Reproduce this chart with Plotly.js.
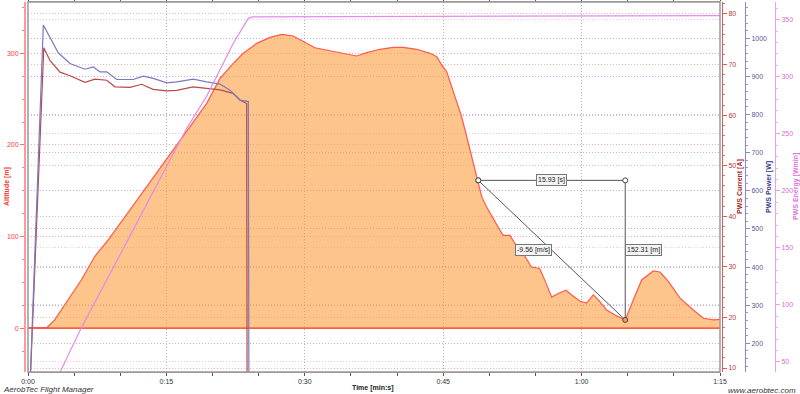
<!DOCTYPE html>
<html>
<head>
<meta charset="utf-8">
<script src="https://cdn.plot.ly/plotly-3.0.1.min.js"></script>
<style>html,body{margin:0;padding:0;background:#fff;}#chart{width:800px;height:394px;}</style>
</head>
<body>
<div id="chart"></div>
<script>
// ---- Data (time in seconds) ----
var timeAlt = [0, 1.98, 2.89, 4.34, 5.78, 7.23, 8.67, 11.05, 14.31, 17.56, 19.37, 20.81, 22.25, 23.33, 24.79, 26.23, 27.50, 28.75, 29.48, 30.20, 31.10, 32.37, 33.46, 34.54, 35.62, 36.71, 38.15, 39.59, 40.68, 42.13, 43.57, 44.30, 44.84, 45.38, 45.55, 46.28, 47.00, 47.55, 48.09, 48.80, 49.17, 49.71, 50.43, 51.16, 51.51, 52.24, 52.78, 53.68, 54.56, 55.46, 56.03, 56.76, 57.47, 58.31, 59.10, 59.83, 60.55, 61.27, 61.81, 62.72, 63.80, 64.73, 65.60, 66.51, 67.77, 68.50, 69.40, 70.67, 72.11, 73.20, 74.27, 75.0];
var altitude = [0, 0, 9.1, 30.9, 52.7, 78.3, 96.3, 129.1, 174.8, 219.6, 245.4, 272.7, 289.1, 300.0, 310.9, 317.4, 320.7, 318.9, 315.3, 310.9, 306.1, 303.6, 300.7, 298.9, 297.1, 300.7, 304.4, 306.5, 306.5, 304.4, 300.0, 296.3, 287.2, 279.9, 274.5, 252.6, 230.8, 209.0, 187.2, 161.4, 143.6, 132.3, 119.0, 106.8, 101.4, 101.4, 92.3, 81.4, 66.8, 65.3, 52.0, 34.0, 38.0, 41.5, 35.0, 29.5, 27.5, 36.4, 31.0, 20.0, 13.5, 9.1, 30.9, 52.7, 62.5, 61.4, 51.2, 32.9, 20.0, 10.9, 9.1, 9.8];

var timeCur = [0, 0.08, 1.71, 2.38, 3.47, 4.55, 6.18, 7.26, 8.53, 9.43, 11.05, 12.32, 13.55, 15.03, 16.12, 17.88, 19.37, 20.81, 22.22, 22.98, 23.70, 23.75, 75];
var current = [0, 0, 73.3, 70.8, 68.5, 67.8, 66.5, 67.1, 66.9, 65.6, 65.5, 66.1, 65.1, 64.8, 64.9, 65.6, 65.3, 65.0, 64.3, 63.0, 62.3, 0, 0];

var timePow = [0, 0.08, 1.66, 2.38, 3.28, 4.55, 6.18, 7.08, 7.80, 8.53, 9.61, 11.41, 12.50, 13.58, 15.03, 16.12, 17.92, 19.37, 20.81, 21.89, 22.98, 23.88, 23.95, 75];
var power = [0, 0, 1035, 1004, 962, 934, 919, 925, 912, 912, 892, 892, 901, 895, 883, 886, 893, 886, 880, 864, 838, 834, 0, 0];

var timeEn = [0, 0.9, 3.61, 5.78, 10.84, 17.20, 19.37, 22.25, 23.88, 24.30, 75];
var energy = [0, 0, 43.3, 79.9, 157.2, 254.8, 283.0, 329.3, 351.2, 352.5, 353.5];

var measureT = [48.80, 64.73];
var measureAlt = [161.40, 9.09];
var measureLabels = ["15.93 [s]", "152.31 [m]", "-9.56 [m/s]"];

var xTickVals = [0, 15, 30, 45, 60, 75];
var xTickText = ["0:00", "0:15", "0:30", "0:45", "1:00", "1:15"];

// ---- Traces ----
var font = "Liberation Sans, Arial, sans-serif";
var traces = [
  {x: timeAlt, y: altitude, type: 'scatter', mode: 'lines', fill: 'tozeroy',
   fillcolor: 'rgba(252,157,63,0.6)', line: {color: '#ff5a4a', width: 1.2}, xaxis: 'x', yaxis: 'y', hoverinfo: 'skip'},
  {x: [measureT[0], measureT[1], measureT[1], measureT[0]],
   y: [measureAlt[0], measureAlt[0], measureAlt[1], measureAlt[0]],
   type: 'scatter', mode: 'lines+markers', line: {color: '#555555', width: 1},
   marker: {size: 5, color: ['#ffffff', '#ffffff', '#f0a060', '#ffffff'], line: {color: '#444444', width: 1}},
   xaxis: 'x', yaxis: 'y', hoverinfo: 'skip'},
  {x: timeCur, y: current, type: 'scatter', mode: 'lines', line: {color: '#b84a48', width: 1.2}, xaxis: 'x', yaxis: 'y2', hoverinfo: 'skip'},
  {x: timePow, y: power, type: 'scatter', mode: 'lines', line: {color: '#7a78c0', width: 1.2}, xaxis: 'x', yaxis: 'y3', hoverinfo: 'skip'},
  {x: timeEn, y: energy, type: 'scatter', mode: 'lines', line: {color: '#e08ee8', width: 1.2}, xaxis: 'x', yaxis: 'y4', hoverinfo: 'skip'}
];

var W = 800, L = 25, R = 2;
var pw = W - L - R;
function px(x) { return (x - L) / pw; }
var DOT = '1px,2px';

function yAx(opts) {
  var base = {
    showgrid: true, griddash: DOT, gridwidth: 1, zeroline: false,
    showline: true, linewidth: 1, ticks: 'outside', ticklen: 4,
    tickfont: {size: 7, family: font}, fixedrange: true
  };
  for (var k in opts) base[k] = opts[k];
  return base;
}

var midT = (measureT[0] + measureT[1]) / 2;
var midAlt = (measureAlt[0] + measureAlt[1]) / 2;
var boxStyle = {showarrow: false, font: {size: 7, family: font, color: '#222'}, bgcolor: '#f4f4f4', bordercolor: '#777', borderwidth: 1, borderpad: 1, xref: 'x', yref: 'y'};
function box(o) { var b = {}; for (var k in boxStyle) b[k] = boxStyle[k]; for (var k2 in o) b[k2] = o[k2]; return b; }
function vtitle(x, text, color) {
  return {xref: 'paper', yref: 'paper', x: px(x), y: 0.5, xanchor: 'center', yanchor: 'middle',
    text: '<b>' + text + '</b>', textangle: -90, showarrow: false,
    font: {size: 7, family: font, color: color}};
}

var layout = {
  width: 800, height: 394,
  margin: {l: L, r: R, t: 2, b: 22},
  paper_bgcolor: '#ffffff', plot_bgcolor: '#ffffff',
  showlegend: false,
  font: {family: font},
  xaxis: {
    domain: [px(28), px(720)], range: [0, 75],
    tickvals: xTickVals, ticktext: xTickText,
    showgrid: true, gridcolor: '#b5b5b5', griddash: DOT, gridwidth: 1,
    zeroline: false, showline: true, linecolor: '#9a9a9a', linewidth: 1, mirror: 'allticks',
    ticks: 'outside', ticklen: 3, tickcolor: '#555',
    minor: {dtick: 5, tick0: 0, ticks: 'outside', ticklen: 3, tickcolor: '#555', showgrid: false},
    tickfont: {size: 7, family: font, color: '#333'}, fixedrange: true
  },
  yaxis: yAx({
    range: [-47.7, 356], dtick: 100, tick0: 0, anchor: 'free', position: 0, side: 'left',
    gridcolor: 'rgba(255,110,110,0.6)', linecolor: '#ff9a9a', linewidth: 2,
    tickcolor: '#ff6a6a', tickfont: {size: 7, family: font, color: '#ff4040'},
    zeroline: true, zerolinecolor: '#ff5050', zerolinewidth: 2,
    minor: {dtick: 25, ticks: 'outside', ticklen: 2, tickcolor: '#ff8080', showgrid: false}
  }),
  yaxis2: yAx({
    overlaying: 'y', side: 'right', anchor: 'free', position: px(722),
    range: [9.21, 82.37], dtick: 10, tick0: 0,
    gridcolor: 'rgba(240,120,120,0.55)', linecolor: '#e05a5a', tickcolor: '#e05a5a',
    tickfont: {size: 7, family: font, color: '#b04040'},
    minor: {dtick: 2, ticks: 'outside', ticklen: 2, tickcolor: '#e07070', showgrid: false}
  }),
  yaxis3: yAx({
    overlaying: 'y', side: 'right', anchor: 'free', position: px(745),
    range: [124.7, 1095.3], dtick: 100, tick0: 0,
    gridcolor: 'rgba(130,130,200,0.6)', linecolor: '#8a88cc', tickcolor: '#8a88cc',
    tickfont: {size: 7, family: font, color: '#5a5898'},
    minor: {dtick: 20, ticks: 'outside', ticklen: 2, tickcolor: '#9a98d0', showgrid: false}
  }),
  yaxis4: yAx({
    overlaying: 'y', side: 'right', anchor: 'free', position: px(775),
    range: [41.2, 365.5], dtick: 50, tick0: 0,
    gridcolor: 'rgba(230,150,230,0.6)', linecolor: '#e8a0e8', tickcolor: '#e8a0e8',
    tickfont: {size: 7, family: font, color: '#d070d0'},
    minor: {dtick: 10, ticks: 'outside', ticklen: 2, tickcolor: '#eab0ea', showgrid: false}
  }),
  shapes: [
    {type: 'rect', xref: 'x domain', yref: 'y domain', x0: 0, x1: 1, y0: 0, y1: 1,
     line: {color: '#9a9a9a', width: 1.5}, layer: 'above'}
  ],
  annotations: [
    box({x: midT, y: measureAlt[0], text: measureLabels[0], xanchor: 'center', yanchor: 'middle'}),
    box({x: measureT[1], y: midAlt, text: measureLabels[1], xanchor: 'left', yanchor: 'middle'}),
    box({x: midT, y: midAlt, text: measureLabels[2], xanchor: 'right', yanchor: 'middle'}),
    vtitle(7, 'Altitude [m]', '#ff3030'),
    vtitle(740, 'PWS Current [A]', '#a02828'),
    vtitle(769, 'PWS Power [W]', '#3a3890'),
    vtitle(796, 'PWS Energy [Wmin]', '#e070e0'),
    {xref: 'paper', yref: 'paper', x: px(373), xanchor: 'center', y: -16/370, yanchor: 'middle', text: '<b>Time [min:s]</b>', showarrow: false,
     font: {size: 7, family: font, color: '#222'}},
    {xref: 'paper', yref: 'paper', x: px(1), xanchor: 'left', y: -17/370, yanchor: 'middle', text: '<i>AerobTec Flight Manager</i>', showarrow: false,
     font: {size: 8, family: font, color: '#333'}},
    {xref: 'paper', yref: 'paper', x: 1, xanchor: 'right', y: -19/370, yanchor: 'middle', text: '<i>www.aerobtec.com</i>', showarrow: false,
     font: {size: 8, family: font, color: '#333'}}
  ]
};

Plotly.newPlot('chart', traces, layout, {staticPlot: true, displayModeBar: false});
</script>
</body>
</html>
